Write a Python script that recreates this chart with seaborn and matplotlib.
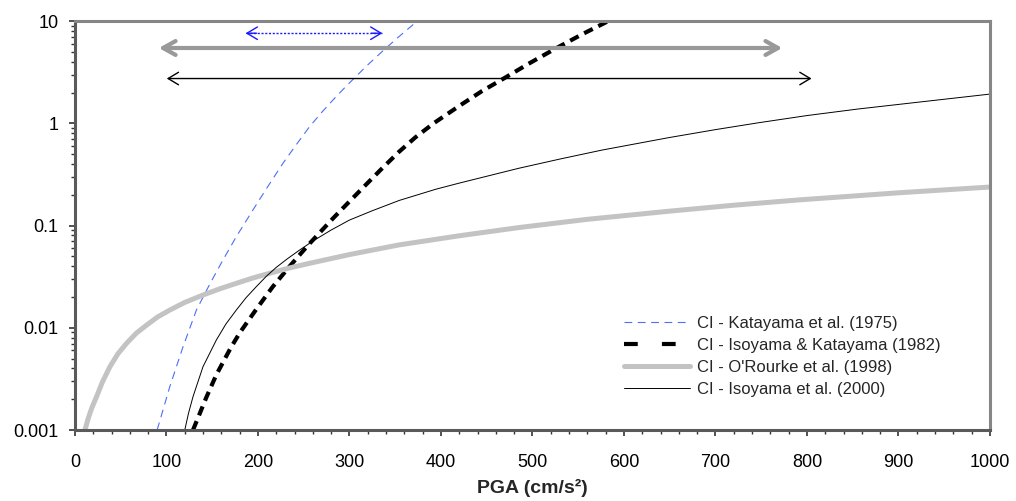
import matplotlib
matplotlib.use("Agg")
import matplotlib.pyplot as plt
from matplotlib.patches import FancyArrowPatch
from matplotlib.ticker import FixedLocator, MultipleLocator, LogLocator, NullFormatter
import seaborn as sns
import pandas as pd

# Liquefaction-related CI curves versus peak ground acceleration
pga_katayama75 = [89.8, 103.6, 118.1, 132.7, 147.2, 161.7, 176.3, 194.5, 210.0, 227.2, 241.0,
                  256.3, 270.0, 281.7, 295.0, 307.2, 321.0, 336.2, 352.0, 369.0, 374.3]
ci_katayama75 = [0.001, 0.00265, 0.00653, 0.0149, 0.0266, 0.046, 0.0778, 0.142, 0.235, 0.405, 0.603,
                 0.925, 1.29, 1.68, 2.24, 2.88, 3.80, 5.08, 6.79, 9.14, 10.0]

pga_isoyama82 = [129.0, 143.6, 154.5, 170.0, 180.0, 198.0, 216.0, 234.5, 255.0, 282.0, 300.0, 318.0,
                 336.0, 354.0, 372.0, 392.0, 420.0, 445.0, 467.0, 495.0, 525.0, 555.0, 583.0]
ci_isoyama82 = [0.001, 0.00209, 0.00347, 0.00631, 0.00891, 0.0151, 0.0251, 0.0398, 0.0646, 0.1175, 0.172, 0.251,
                0.365, 0.525, 0.728, 1.0, 1.479, 2.07, 2.69, 3.79, 5.37, 7.48, 10.0]

pga_orourke98 = [10.9, 14.5, 18.2, 23.6, 30.0, 38.2, 47.0, 56.4, 67.0, 78.2, 90.0, 103.6, 120.0, 139.9,
                 158.0, 176.3, 194.0, 212.6, 234.0, 256.3, 300.0, 354.0, 420.0, 485.0, 560.0, 649.0,
                 720.0, 791.0, 900.0, 1000.0]
ci_orourke98 = [0.001, 0.0013, 0.00163, 0.00212, 0.00295, 0.00416, 0.00558, 0.00705, 0.00885, 0.0106, 0.0127,
                0.0149, 0.0177, 0.0209, 0.0240, 0.0272, 0.0306, 0.0341, 0.0384, 0.0427, 0.052, 0.0646,
                0.0794, 0.0955, 0.115, 0.138, 0.158, 0.178, 0.209, 0.238]

pga_isoyama00 = [120.0, 124.0, 129.0, 139.9, 154.5, 165.0, 176.3, 187.0, 198.1, 209.0, 219.9, 232.0, 245.4,
                 260.0, 280.0, 299.9, 325.0, 354.4, 394.4, 420.0, 485.0, 530.0, 576.0, 649.0, 700.0,
                 747.0, 800.0, 856.0, 930.0, 1000.0]
ci_isoyama00 = [0.001, 0.00145, 0.00212, 0.00416, 0.00759, 0.0109, 0.0149, 0.0197, 0.0252, 0.0318, 0.0389,
                0.0472, 0.0575, 0.0705, 0.0904, 0.113, 0.1396, 0.176, 0.2265, 0.260, 0.363, 0.447,
                0.547, 0.724, 0.867, 1.012, 1.19, 1.38, 1.64, 1.93]

series_labels = ["CI - Katayama et al. (1975)", "CI - Isoyama & Katayama (1982)",
                 "CI - O'Rourke et al. (1998)", "CI - Isoyama et al. (2000)"]

# PGA ranges shown as horizontal double arrows (start, end, level)
range_blue = [186.5, 336.0, 7.6]
range_gray = [91.6, 773.0, 5.45]
range_black = [100.3, 805.0, 2.74]

y_ticks = [0.001, 0.01, 0.1, 1, 10]
y_tick_labels = ["0.001", "0.01", "0.1", "1", "10"]
x_ticks = [0, 100, 200, 300, 400, 500, 600, 700, 800, 900, 1000]

sns.set_style("white")
plt.rcParams["font.family"] = ["Liberation Sans", "DejaVu Sans"]

fig = plt.figure(figsize=(10.16, 5.01), dpi=100)
ax = fig.add_axes([0.0738, 0.1417, 0.9006, 0.8163])

styles = [
    dict(color="#4d6ef5", lw=0.8, dashes=(7, 5)),
    dict(color="black", lw=3.0, dashes=(2.3, 1.5)),
    dict(color="#c3c3c3", lw=3.6, dashes=None),
    dict(color="black", lw=0.7, dashes=None),
]
curves = [(pga_katayama75, ci_katayama75), (pga_isoyama82, ci_isoyama82),
          (pga_orourke98, ci_orourke98), (pga_isoyama00, ci_isoyama00)]

for (xs, ys), lab, st in zip(curves, series_labels, styles):
    df = pd.DataFrame({"PGA": xs, "CI": ys})
    sns.lineplot(data=df, x="PGA", y="CI", ax=ax, label=lab,
                 color=st["color"], linewidth=st["lw"], sort=False)
    l2d = ax.get_lines()[-1]
    if st["dashes"] is not None:
        l2d.set_dashes(st["dashes"])
    l2d.set_solid_joinstyle("round")

ax.set_yscale("log")
ax.set_xlim(0, 1000)
ax.set_ylim(0.001, 10)

# Range arrows
def draw_arrow(rng, color, lw, hl, hw, ls="-"):
    a = FancyArrowPatch((rng[0], rng[2]), (rng[1], rng[2]),
                        arrowstyle=f"<->,head_length={hl},head_width={hw}",
                        mutation_scale=10, color=color, lw=lw, linestyle=ls,
                        shrinkA=0, shrinkB=0, zorder=5)
    ax.add_patch(a)

draw_arrow(range_gray, "#999999", 3.0, 0.9, 0.5)
draw_arrow(range_black, "black", 1.0, 0.75, 0.45)
# blue arrow: dotted shaft with solid open heads
ax.plot([range_blue[0], range_blue[1]], [range_blue[2], range_blue[2]],
        color="#1a1aff", lw=1.0, ls=(0, (1.5, 1.2)), zorder=5)
for tip, back in [(range_blue[0], range_blue[0] + 12), (range_blue[1], range_blue[1] - 12)]:
    ax.annotate("", xy=(tip, range_blue[2]), xytext=(back, range_blue[2]),
                arrowprops=dict(arrowstyle="->,head_length=0.75,head_width=0.45",
                                color="#1a1aff", lw=1.0, shrinkA=0, shrinkB=0,
                                mutation_scale=10), zorder=5)

# Axes cosmetics
ax.yaxis.set_major_locator(FixedLocator(y_ticks))
ax.set_yticklabels(y_tick_labels)
ax.yaxis.set_minor_locator(LogLocator(base=10, subs=range(2, 10)))
ax.yaxis.set_minor_formatter(NullFormatter())
ax.xaxis.set_major_locator(FixedLocator(x_ticks))
ax.xaxis.set_minor_locator(MultipleLocator(20))

ax.tick_params(axis="both", which="major", direction="out", length=4.5, width=1.2,
               color="#333333", labelsize=13, labelcolor="black")
ax.tick_params(axis="both", which="minor", direction="out", length=3, width=1.0,
               color="#333333")
ax.tick_params(axis="y", which="major", pad=7.5)
ax.tick_params(axis="x", which="major", pad=12.5)
ax.tick_params(left=True, bottom=True, which="both")

for side in ["left", "bottom"]:
    ax.spines[side].set_color("#5a5a5a")
    ax.spines[side].set_linewidth(2.2)
for side in ["top", "right"]:
    ax.spines[side].set_color("#868686")
    ax.spines[side].set_linewidth(2.2)
    ax.spines[side].set_visible(True)

ax.set_xlabel("PGA (cm/s²)", fontsize=14, fontweight="bold", labelpad=6)
ax.set_ylabel("")
ax.grid(False)

leg = ax.legend(loc="upper left", bbox_to_anchor=(0.593, 0.296), frameon=False,
                fontsize=12, handlelength=3.96, handletextpad=0.42,
                labelspacing=0.42, borderaxespad=0)
for h, st in zip(leg.get_lines(), styles):
    if st["dashes"] is not None:
        h.set_dashes(st["dashes"] if st["lw"] < 2 else (3.3, 5.8))

fig.savefig("out.png", dpi=100)
